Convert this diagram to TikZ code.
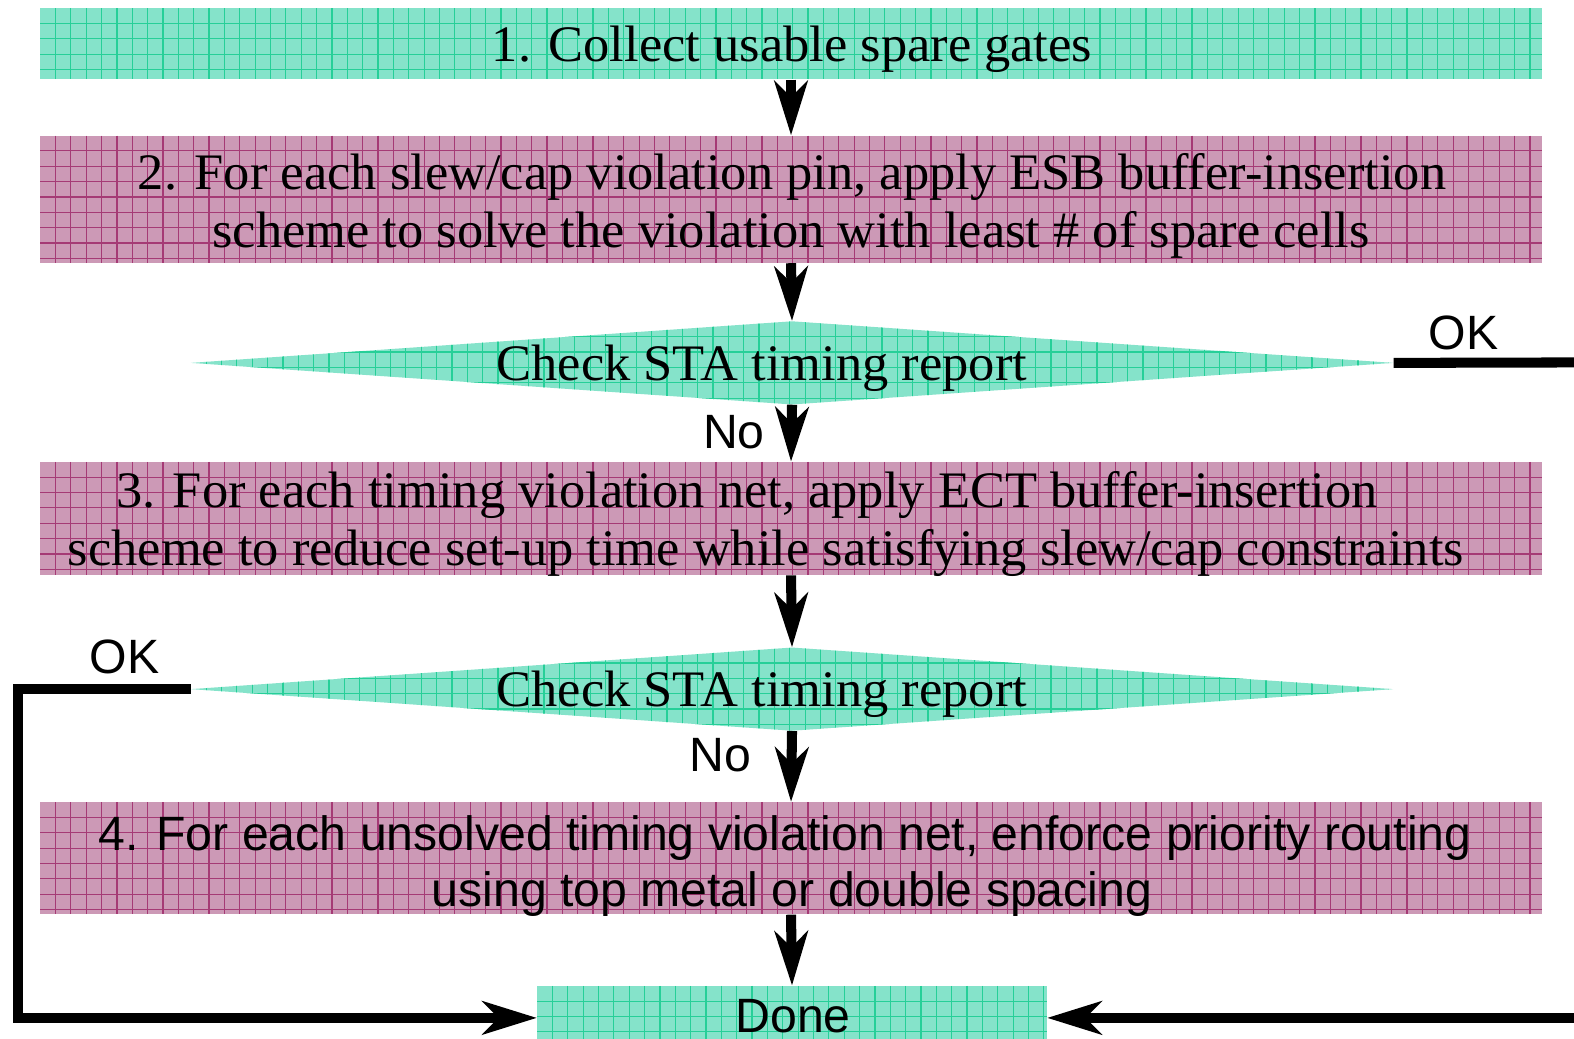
\documentclass[tikz,border=0pt]{standalone}
\usepackage{fontspec}
\setmainfont[FakeStretch=1.025]{Liberation Serif}
\newfontfamily\helv{Liberation Sans}
\usetikzlibrary{arrows.meta,shapes.geometric}

\definecolor{mint}{HTML}{85E3CA}
\definecolor{mintline}{HTML}{26CF98}
\definecolor{mauve}{HTML}{CC99B6}
\definecolor{mauveline}{HTML}{A53A75}

\tikzset{
  gridded/.style 2 args={fill=#1, draw=none, path picture={
    \foreach \k in {1,...,105}{
      \draw[#2, line width=1.2pt]
        ([xshift={\k*15.3pt}]path picture bounding box.north west) --
        ([xshift={\k*15.3pt}]path picture bounding box.south west);}
    \foreach \k in {1,...,10}{
      \draw[#2, line width=1.2pt]
        ([yshift={-\k*15.3pt}]path picture bounding box.north west) --
        ([yshift={-\k*15.3pt}]path picture bounding box.north east);}
  }},
  mintbox/.style={gridded={mint}{mintline}, rectangle, inner sep=0pt},
  mauvebox/.style={gridded={mauve}{mauveline}, rectangle, inner sep=0pt},
  decision/.style={gridded={mint}{mintline}, diamond, inner sep=0pt,
    minimum width=1198pt, minimum height=83pt},
  sertext/.style={font=\fontsize{51}{57}\selectfont, inner sep=0pt, anchor=base},
  santext/.style={font=\helv\fontsize{48}{54}\selectfont, inner sep=0pt, anchor=base},
  flow/.style={line width=10pt, -{Stealth[length=54pt,width=33pt,inset=16pt]}},
  rail/.style={line width=10pt},
}

\begin{document}
\begin{tikzpicture}[x=1pt,y=-1pt]
\clip (0,0) rectangle (1568,1035);
\fill[white] (0,0) rectangle (1568,1035);

% process boxes
\node[mintbox, minimum width=1496pt, minimum height=71pt] (s1) at (788,43.5) {};
\node[mauvebox, minimum width=1496pt, minimum height=127pt] (s2) at (788,198.5) {};
\node[decision] (d1) at (789,361.5) {};
\node[mauvebox, minimum width=1496pt, minimum height=113pt] (s3) at (788,516.5) {};
\node[decision] (d2) at (789,686.5) {};
\node[mauvebox, minimum width=1496pt, minimum height=112pt] (s4) at (788,855) {};
\node[mintbox, minimum width=508pt, minimum height=53pt] (done) at (789,1008.5) {};

% texts
\node[sertext] (t1) at (789,61) {1. Collect usable spare gates};
\node[sertext] (t2a) at (789,189) {2. For each slew/cap violation pin, apply ESB buffer-insertion};
\node[sertext] (t2b) at (788,247) {scheme to solve the violation with least \# of spare cells};
\node[sertext] (td1) at (759,379) {Check STA timing report};
\node[sertext] (t3a) at (744,506) {3. For each timing violation net, apply ECT buffer-insertion};
\node[sertext] (t3b) at (763,563) {scheme to reduce set-up time while satisfying slew/cap constraints};
\node[sertext] (td2) at (759,704) {Check STA timing report};
\node[santext] (t4a) at (782,847) {4. For each unsolved timing violation net, enforce priority routing};
\node[santext] (t4b) at (789,903) {using top metal or double spacing};
\node[santext] (tdone) at (790,1029) {Done};

% branch labels
\node[santext] (ok1) at (1458,348) {OK};
\node[santext] (ok2) at (124,671) {OK};
\node[santext] (no1) at (731,447) {No};
\node[santext] (no2) at (718,769) {No};

% main flow
\draw[flow] (s1.south) -- (s2.north);
\draw[flow] (s2.south) -- (d1.north);
\draw[flow] (d1.south) -- (s3.north);
\draw[flow] (s3.south) -- (d2.north);
\draw[flow] (d2.south) -- (s4.north);
\draw[flow] (s4.south) -- (done.north);

% OK branches, entering the final box a little below its middle
\coordinate (railtop) at (1590,361);
\coordinate (railbot) at (1590,1014);
\coordinate (doneleft) at ([yshift=-5.5pt]done.west);
\coordinate (doneright) at ([yshift=-5.5pt]done.east);
\draw[rail] (d1.east) -- (railtop);
\draw[flow] (railbot) -- (doneright);
\draw[flow] (d2.west) -- (18,686.5) |- (doneleft);
\end{tikzpicture}
\end{document}
